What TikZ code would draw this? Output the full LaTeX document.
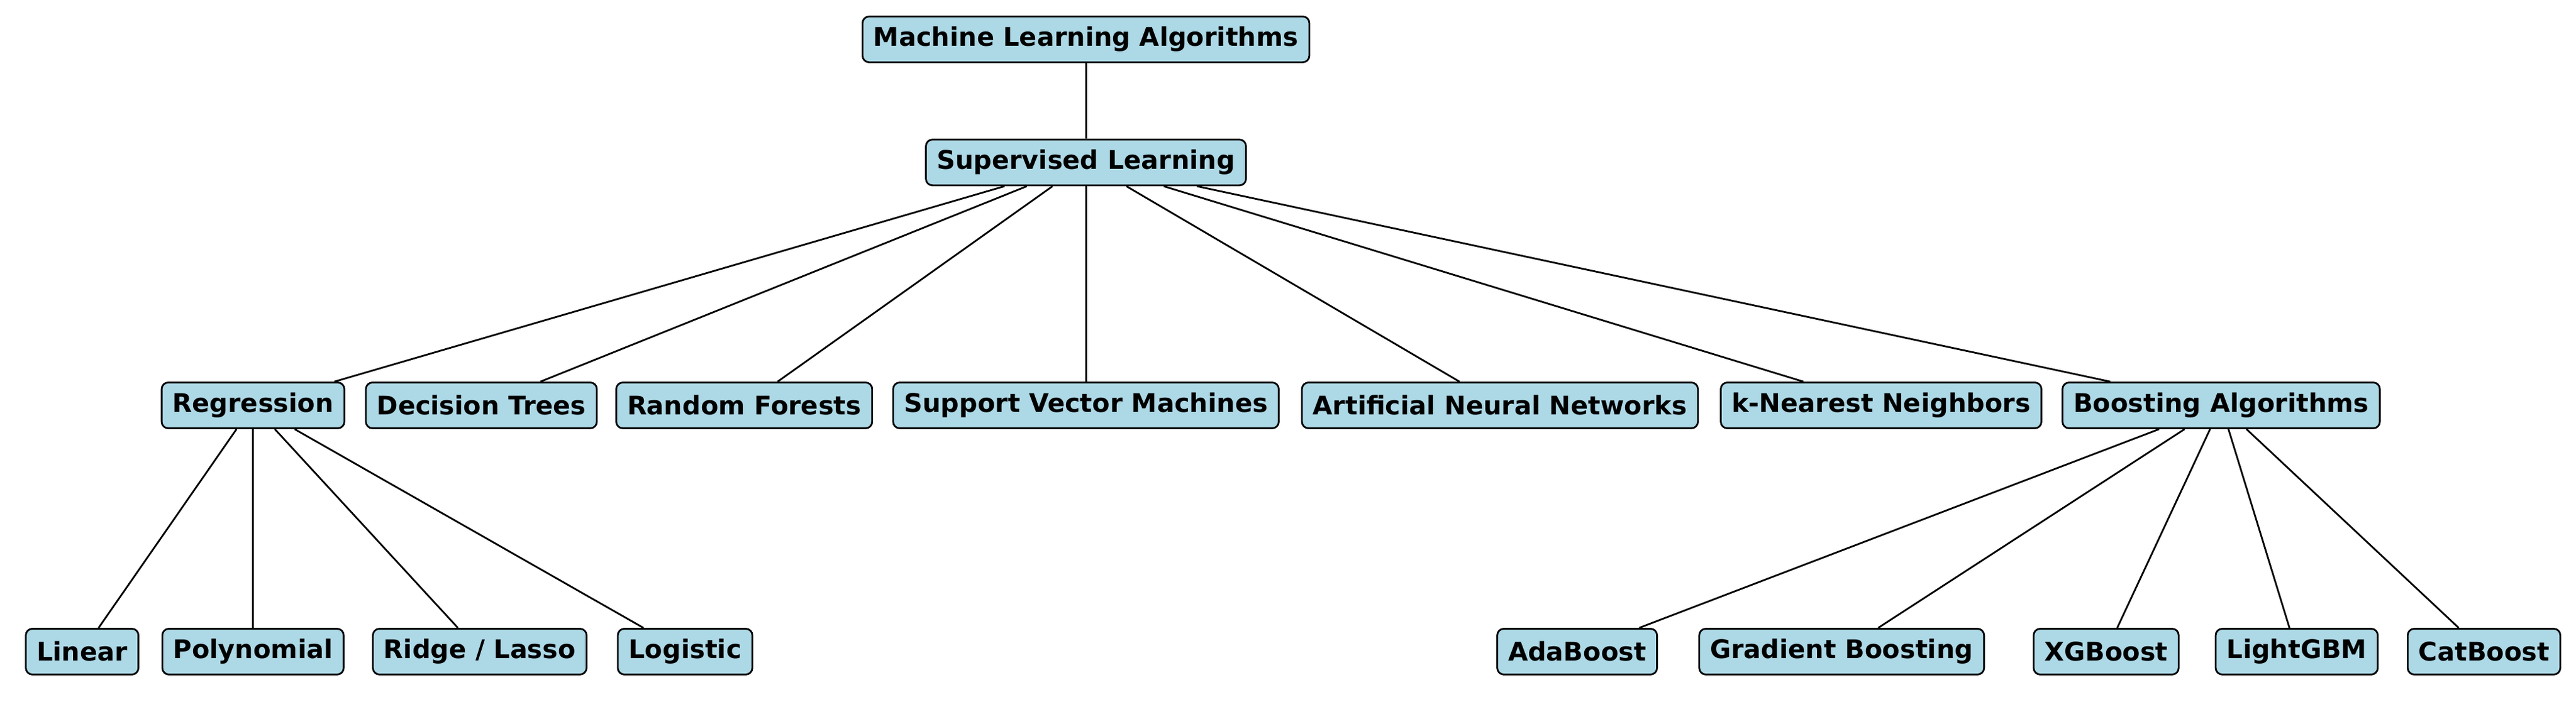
\documentclass[tikz,border=0pt]{standalone}
\usepackage{fontspec}
\setmainfont{DejaVu Sans}
\definecolor{lb}{RGB}{173,216,230}
\begin{document}
\begin{tikzpicture}[x=0.02654cm,y=-0.02654cm,
  box/.style={draw=black,fill=lb,rounded corners=3pt,line width=0.8pt,inner xsep=5pt,inner ysep=0pt,minimum height=0.74cm,font=\fontsize{11.8}{13}\selectfont\bfseries},
  e/.style={line width=0.8pt}]
\useasboundingbox (0,0) rectangle (1568,427.7);
\node[box] (root) at (661,24) {Machine Learning Algorithms};
\node[box] (sl) at (661,99) {Supervised Learning};
\node[box] (reg) at (154,247) {Regression};
\node[box] (dt) at (293,247) {Decision Trees};
\node[box] (rf) at (453,247) {Random Forests};
\node[box] (svm) at (661,247) {Support Vector Machines};
\node[box] (ann) at (913,247) {Artificial Neural Networks};
\node[box] (knn) at (1145,247) {k-Nearest Neighbors};
\node[box] (boost) at (1352,247) {Boosting Algorithms};
\node[box] (lin) at (50,397) {Linear};
\node[box] (poly) at (154,397) {Polynomial};
\node[box] (rl) at (292,397) {Ridge / Lasso};
\node[box] (log) at (417,397) {Logistic};
\node[box] (ada) at (960,397) {AdaBoost};
\node[box] (gb) at (1121,397) {Gradient Boosting};
\node[box] (xgb) at (1282,397) {XGBoost};
\node[box] (lgbm) at (1398,397) {LightGBM};
\node[box] (cat) at (1512,397) {CatBoost};
\draw[e] (root) -- (sl);
\foreach \n in {reg,dt,rf,svm,ann,knn,boost} \draw[e] (sl) -- (\n);
\foreach \n in {lin,poly,rl,log} \draw[e] (reg) -- (\n);
\foreach \n in {ada,gb,xgb,lgbm,cat} \draw[e] (boost) -- (\n);
\end{tikzpicture}
\end{document}
